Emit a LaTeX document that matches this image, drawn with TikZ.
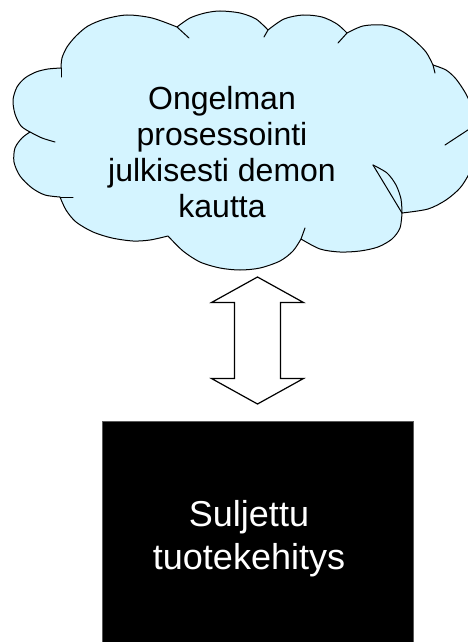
\documentclass[tikz,border=0pt]{standalone}
\usepackage{fontspec}
\setmainfont{Liberation Sans}
\usetikzlibrary{calc}
\definecolor{cloudblue}{RGB}{212,244,255}
\begin{document}
\begin{tikzpicture}[x=1pt,y=-1pt,
  cloudline/.style={line width=1pt, line join=round, line cap=round},
  arrowline/.style={line width=1.2pt, fill=white, draw=black},
  cloudtext/.style={font=\fontsize{32}{36}\selectfont, align=center, text=black},
  boxtext/.style={font=\fontsize{36}{43}\selectfont, align=center, text=white},
  blackbox/.style={draw=black!65, line width=0.6pt, fill=black, inner sep=0pt}]
\useasboundingbox (0,0) rectangle (468,642);
\clip (0,0) rectangle (468,642);

% cloud body
\filldraw[cloudline, fill=cloudblue]
  plot[smooth] coordinates {(61,68) (62,58) (67,47) (76,36) (88,26) (105,19) (127,15) (152,18) (177,27)}
  -- plot[smooth] coordinates {(177,27) (190,18) (205,13) (220,11) (240,13) (256,19) (268,30)}
  -- plot[smooth] coordinates {(268,30) (284,19) (303,15) (322,17) (337,24) (347,33)}
  -- plot[smooth] coordinates {(347,33) (363,26) (383,25) (400,30) (414,40) (426,52) (433,65)}
  -- plot[smooth] coordinates {(433,65) (446,70) (456,79) (466,94) (474,112) (477,125)}
  -- plot[smooth] coordinates {(477,125) (479,142) (476,158) (469,174) (460,188) (446,200) (428,209) (402,213)}
  -- plot[smooth] coordinates {(402,213) (400,228) (392,239) (378,247) (360,251) (340,252) (320,249) (301,239)}
  -- plot[smooth] coordinates {(301,239) (293,251) (280,261) (260,268) (240,270) (220,268) (200,262) (183,251) (168,236)}
  -- plot[smooth] coordinates {(168,236) (150,240) (133,241) (112,238) (93,232) (76,222) (66,210) (60,197)}
  -- plot[smooth] coordinates {(60,197) (45,195) (32,188) (20,176) (14,162) (15,148) (22,138) (30,132)}
  -- plot[smooth] coordinates {(30,132) (21,126) (15,114) (13,100) (17,87) (25,78) (36,72) (48,69) (61,68)}
  -- cycle;

% inner ticks of the cloud
\draw[cloudline] (61,77) -- (61,68);
\draw[cloudline] (177,27) -- (189,38);
\draw[cloudline] (264,37) -- (268,30);
\draw[cloudline] (338,43) -- (347,33);
\draw[cloudline] (433,65) -- (435,73);
\draw[cloudline] (445,145) -- (477,124);
\draw[cloudline] (301,239) -- (305,228);
\draw[cloudline] plot[smooth] coordinates {(30,132) (42,138) (55,142)};
\draw[cloudline] (60,197) -- (73,197);
\draw[cloudline] (373,165) -- (402,213);
\draw[cloudline] plot[smooth] coordinates {(373,165) (387,173) (396,185) (401,199) (402,213)};

\node[cloudtext] (cloudtxt) at (222,151.7) {Ongelman\\prosessointi\\julkisesti demon\\kautta};

% black box
\node[blackbox, minimum width=310.4pt, minimum height=240pt, anchor=north west] (box) at (102.3,421) {};
\node[boxtext] (boxtxt) at (249,538.4) {Suljettu\\tuotekehitys};

% double arrow
\coordinate (arrtop) at (257.5,277);
\coordinate (arrbot) at (257.5,404);
\draw[arrowline] (arrtop) -- ++(46,25.5) -- ++(-23,0) -- ++(0,76) -- ++(23,0) -- (arrbot)
  -- ++(-46,-25.5) -- ++(23,0) -- ++(0,-76) -- ++(-23,0) -- cycle;
\end{tikzpicture}
\end{document}
